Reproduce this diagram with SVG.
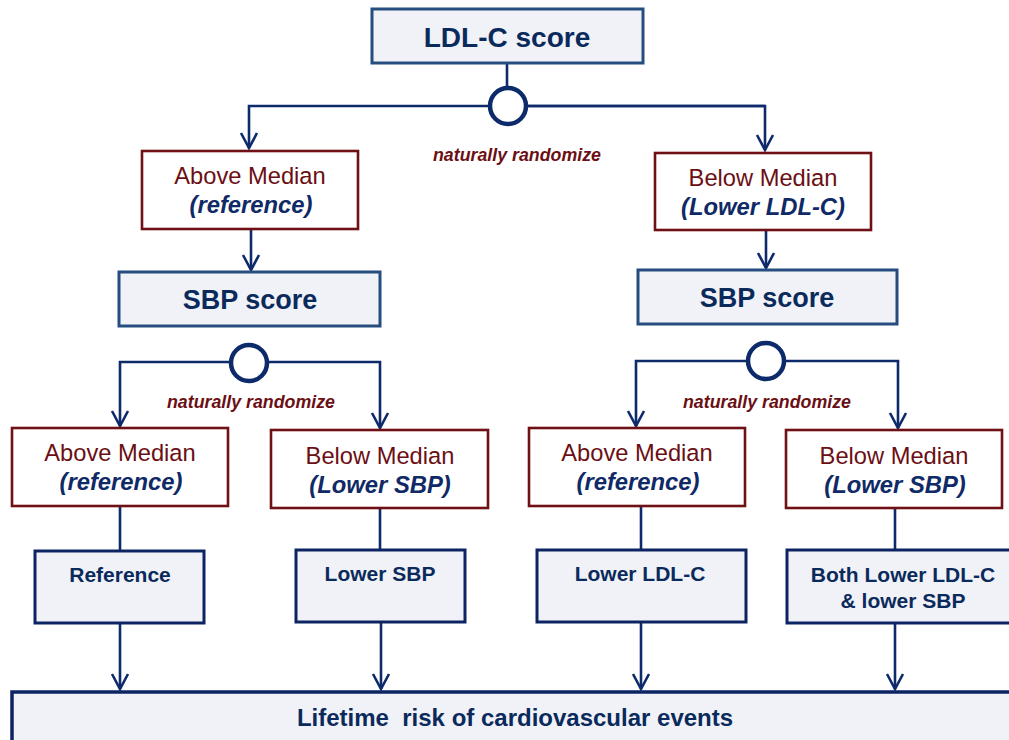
<svg xmlns="http://www.w3.org/2000/svg" width="1009" height="740" viewBox="0 0 1009 740">
<defs>
<style>
.score{fill:#f1f2f7;stroke:#264d7f;stroke-width:3}
.red{fill:#ffffff;stroke:#6e1014;stroke-width:2.6}
.out{fill:#f1f2f7;stroke:#0c2461;stroke-width:3}
.big{fill:#f1f2f7;stroke:#0c2461;stroke-width:3.5}
.ln{fill:none;stroke:#0d2a6b;stroke-width:2.6}
.circ{fill:#ffffff;stroke:#0d2a6b;stroke-width:4.5}
text{font-family:"Liberation Sans",Arial,sans-serif;text-anchor:middle}
.t1{font-size:28px;font-weight:bold;fill:#0b2a5c}
.t2{font-size:27px;font-weight:bold;fill:#0b2a5c}
.med{font-size:23.7px;fill:#6b0f14}
.sub{font-size:23.8px;font-weight:bold;font-style:italic;fill:#0f2a66}
.nr{font-size:17.8px;font-weight:bold;font-style:italic;fill:#6b0f14}
.ob{font-size:21px;font-weight:bold;fill:#0b2a5c}
.bt{font-size:24px;font-weight:bold;fill:#0b2a5c;white-space:pre}
</style>
<marker id="arr" viewBox="-17 -10 19 20" markerWidth="19" markerHeight="20" refX="0" refY="0" orient="auto" markerUnits="userSpaceOnUse">
<path d="M-15,-8 L0,0 L-15,8" fill="none" stroke="#0d2a6b" stroke-width="2.6" stroke-linejoin="miter"/>
</marker>
</defs>

<g id="connectors">
<path class="ln" d="M507,63 V106"/>
<path class="ln" d="M765,106 H249 V148" marker-end="url(#arr)"/>
<path class="ln" d="M508,106 H765 V150" marker-end="url(#arr)"/>
<path class="ln" d="M251,229 V270" marker-end="url(#arr)"/>
<path class="ln" d="M766,230 V268" marker-end="url(#arr)"/>
<path class="ln" d="M249,362 H120 V426" marker-end="url(#arr)"/>
<path class="ln" d="M249,362 H380 V428" marker-end="url(#arr)"/>
<path class="ln" d="M766,361 H636 V426" marker-end="url(#arr)"/>
<path class="ln" d="M766,361 H898 V428" marker-end="url(#arr)"/>
<path class="ln" d="M120,506 V550"/>
<path class="ln" d="M380,508 V549"/>
<path class="ln" d="M641,506 V550"/>
<path class="ln" d="M895,508 V550"/>
<path class="ln" d="M120,623 V689" marker-end="url(#arr)"/>
<path class="ln" d="M381,622 V689" marker-end="url(#arr)"/>
<path class="ln" d="M641,622 V689" marker-end="url(#arr)"/>
<path class="ln" d="M895,623 V689" marker-end="url(#arr)"/>
<circle class="circ" cx="508" cy="106" r="18"/>
<circle class="circ" cx="249" cy="363" r="18"/>
<circle class="circ" cx="766" cy="361" r="18"/>
<text class="nr" x="517" y="161">naturally randomize</text>
<text class="nr" x="251" y="408">naturally randomize</text>
<text class="nr" x="767" y="408">naturally randomize</text>
</g>

<g id="ldl">
<rect class="score" x="372" y="9" width="271" height="54"/>
<text class="t1" x="507" y="47">LDL-C score</text>
</g>

<g id="ldl-above">
<rect class="red" x="142" y="151" width="216" height="78"/>
<text class="med" x="250" y="184">Above Median</text>
<text class="sub" x="251" y="213">(reference)</text>
</g>

<g id="ldl-below">
<rect class="red" x="655" y="153" width="216" height="77"/>
<text class="med" x="763" y="186">Below Median</text>
<text class="sub" x="763" y="215">(Lower LDL-C)</text>
</g>

<g id="sbp-left">
<rect class="score" x="119" y="272" width="261" height="54"/>
<text class="t2" x="250" y="309">SBP score</text>
</g>

<g id="sbp-right">
<rect class="score" x="638" y="270" width="259" height="54"/>
<text class="t2" x="767" y="307">SBP score</text>
</g>

<g id="l-above">
<rect class="red" x="12" y="428" width="216" height="78"/>
<text class="med" x="120" y="461">Above Median</text>
<text class="sub" x="121" y="490">(reference)</text>
</g>

<g id="l-below">
<rect class="red" x="271" y="430" width="217" height="78"/>
<text class="med" x="380" y="464">Below Median</text>
<text class="sub" x="380" y="493">(Lower SBP)</text>
</g>

<g id="r-above">
<rect class="red" x="529" y="428" width="216" height="78"/>
<text class="med" x="637" y="461">Above Median</text>
<text class="sub" x="638" y="490">(reference)</text>
</g>

<g id="r-below">
<rect class="red" x="786" y="430" width="216" height="78"/>
<text class="med" x="894" y="464">Below Median</text>
<text class="sub" x="895" y="493">(Lower SBP)</text>
</g>

<g id="out-ref">
<rect class="out" x="35" y="551" width="169" height="72"/>
<text class="ob" x="120" y="582">Reference</text>
</g>

<g id="out-sbp">
<rect class="out" x="296" y="550" width="169" height="72"/>
<text class="ob" x="380" y="581">Lower SBP</text>
</g>

<g id="out-ldl">
<rect class="out" x="537" y="550" width="209" height="72"/>
<text class="ob" x="640" y="581">Lower LDL-C</text>
</g>

<g id="out-both">
<rect class="out" x="787" y="550" width="230" height="73"/>
<text class="ob" x="903" y="582">Both Lower LDL-C</text>
<text class="ob" x="903" y="608">&amp; lower SBP</text>
</g>

<g id="lifetime">
<rect class="big" x="12" y="692" width="1010" height="60"/>
<text class="bt" x="515" y="726" xml:space="preserve">Lifetime  risk of cardiovascular events</text>
</g>
</svg>
